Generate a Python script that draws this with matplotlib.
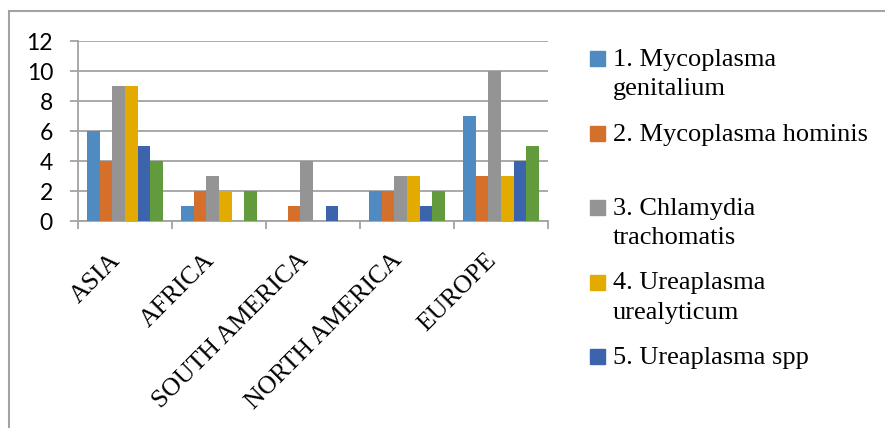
import matplotlib
matplotlib.use("Agg")
import matplotlib.pyplot as plt
from matplotlib.patches import Rectangle
from matplotlib.transforms import ScaledTranslation
import numpy as np

regions = ["ASIA", "AFRICA", "SOUTH AMERICA", "NORTH AMERICA", "EUROPE"]
series_labels = [
    "1. Mycoplasma\ngenitalium",
    "2. Mycoplasma hominis",
    "3. Chlamydia\ntrachomatis",
    "4. Ureaplasma\nurealyticum",
    "5. Ureaplasma spp",
    "6. Other",
]
m_genitalium = [6, 1, 0, 2, 7]
m_hominis = [4, 2, 1, 2, 3]
c_trachomatis = [9, 3, 4, 3, 10]
u_urealyticum = [9, 2, 0, 3, 3]
u_spp = [5, 0, 1, 1, 4]
other = [4, 2, 0, 2, 5]
series_values = [m_genitalium, m_hominis, c_trachomatis, u_urealyticum, u_spp, other]
colors = ["#4f8bc1", "#d4702c", "#949494", "#e3ab00", "#3b64ad", "#629a3e"]
y_ticks = [0, 2, 4, 6, 8, 10, 12]

W, H = 885, 428
fig = plt.figure(figsize=(W / 100, H / 100), dpi=100)


def fx(px):
    return px / W


def fy(py):
    return 1 - py / H


grid_col = "#a3a3a3"

# chart frame
fig.patches.append(Rectangle((fx(9), fy(500)), fx(1000), fy(11) - fy(500),
                             transform=fig.transFigure, fill=False,
                             edgecolor=grid_col, lw=1.5))

ax = fig.add_axes([fx(78), fy(221), fx(548) - fx(78), fy(41) - fy(221)])
n = len(series_values)
bw = 0.8 / n
x = np.arange(len(regions))
for i, (vals, c) in enumerate(zip(series_values, colors)):
    ax.bar(x + (i - (n - 1) / 2) * bw, vals, width=bw, color=c, zorder=3)

ax.set_xlim(-0.5, len(regions) - 0.5)
ax.set_ylim(0, 12)
ax.set_yticks(y_ticks)
ax.set_yticklabels([str(t) for t in y_ticks], fontfamily="Lato", fontsize=16.5)
ax.grid(axis="y", color=grid_col, lw=1.3, zorder=0)
for s in ["top", "right"]:
    ax.spines[s].set_visible(False)
for s in ["left", "bottom"]:
    ax.spines[s].set_color(grid_col)
    ax.spines[s].set_linewidth(1.3)
ax.tick_params(axis="y", length=6, color=grid_col, width=1.3, pad=12)

ax.set_xticks(np.arange(-0.5, len(regions)), minor=True)
ax.set_xticks(x)
ax.tick_params(axis="x", which="minor", length=6, color=grid_col, width=1.3)
ax.tick_params(axis="x", which="major", length=0, pad=20)
ax.set_xticklabels(regions, rotation=45, ha="right", va="center",
                   rotation_mode="anchor", fontfamily="Liberation Serif",
                   fontsize=18.5)
shift = ScaledTranslation(-0.08, -0.08, fig.dpi_scale_trans)
for lbl in ax.get_xticklabels():
    lbl.set_transform(lbl.get_transform() + shift)

# legend (first five series)
for i in range(5):
    base = 66 + 74.5 * i
    fig.patches.append(Rectangle((fx(590), fy(66 + 74.5 * i)), fx(15), fy(51) - fy(66),
                                 transform=fig.transFigure, color=colors[i]))
    for j, line in enumerate(series_labels[i].split("\n")):
        fig.text(fx(613), fy(base + 29 * j), line, fontfamily="Liberation Serif",
                 fontsize=19, va="baseline", ha="left")

fig.savefig("out.png", dpi=100)
